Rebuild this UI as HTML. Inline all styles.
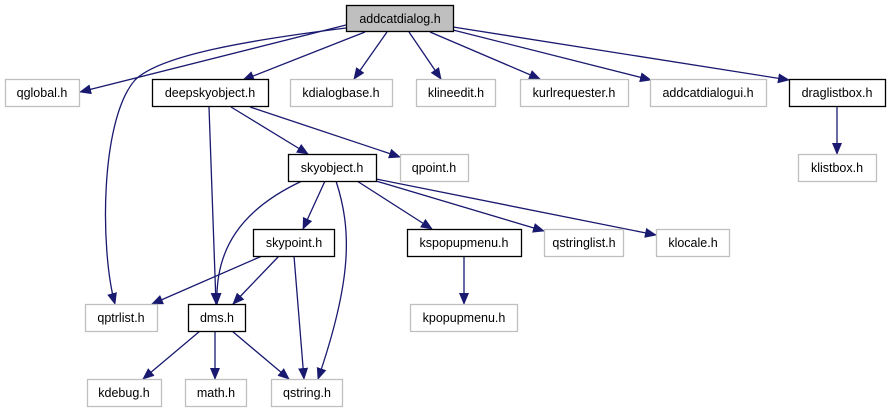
<!DOCTYPE html>
<html><head><meta charset="utf-8"><style>
html,body{margin:0;padding:0;background:#fff;}
svg{display:block;}
text{font-family:"Liberation Sans",sans-serif;font-size:12.5px;fill:#000;}
</style></head><body>
<svg width="891" height="411" viewBox="0 0 891 411" xmlns="http://www.w3.org/2000/svg">
<defs>
<marker id="a" markerWidth="12" markerHeight="10" refX="11" refY="5" orient="auto" markerUnits="userSpaceOnUse">
<path d="M0,0 L12,5 L0,10 z" fill="#191970"/>
</marker>
</defs>
<g fill="none" stroke="#191970" stroke-width="1.3" marker-end="url(#a)">
<path d="M346,25 L80,92"/>
<path d="M346,28 C250,40 160,55 135,80 C100,120 100,250 115,304"/>
<path d="M365,32 L243,80"/>
<path d="M387,32 L354,79"/>
<path d="M409,32 L441,79"/>
<path d="M430,32 L540,79"/>
<path d="M453,30 L651,80"/>
<path d="M453,27 L789,80"/>
<path d="M837,107 L837,154"/>
<path d="M209,107 L216,304"/>
<path d="M231,107 L308,154"/>
<path d="M250,107 L400,157"/>
<path d="M302,181 C240,210 215,250 217,304"/>
<path d="M325,181 L303,229"/>
<path d="M336,181 C352,230 352,280 318,379"/>
<path d="M357,181 L432,229"/>
<path d="M376,181 L544,231"/>
<path d="M376,179 L656,235"/>
<path d="M262,256 L152,304"/>
<path d="M279,256 L233,304"/>
<path d="M294,256 L304,379"/>
<path d="M464,256 L464,304"/>
<path d="M200,331 L143,379"/>
<path d="M215,331 L215,379"/>
<path d="M232,331 L289,379"/>
</g>
<g stroke-width="1.3">
<rect x="346.5" y="5.5" width="107" height="26" fill="#bfbfbf" stroke="#000"/>
<rect x="5.5" y="79.5" width="74" height="27" fill="#fff" stroke="#bfbfbf"/>
<rect x="152.5" y="79.5" width="116" height="27" fill="#fff" stroke="#000"/>
<rect x="290.5" y="79.5" width="102" height="27" fill="#fff" stroke="#bfbfbf"/>
<rect x="416.5" y="79.5" width="79" height="27" fill="#fff" stroke="#bfbfbf"/>
<rect x="520.5" y="79.5" width="108" height="27" fill="#fff" stroke="#bfbfbf"/>
<rect x="650.5" y="79.5" width="116" height="27" fill="#fff" stroke="#bfbfbf"/>
<rect x="789.5" y="79.5" width="96" height="27" fill="#fff" stroke="#000"/>
<rect x="798.5" y="154.5" width="78" height="27" fill="#fff" stroke="#bfbfbf"/>
<rect x="288.5" y="154.5" width="88" height="27" fill="#fff" stroke="#000"/>
<rect x="400.5" y="154.5" width="68" height="27" fill="#fff" stroke="#bfbfbf"/>
<rect x="253.5" y="229.5" width="81" height="27" fill="#fff" stroke="#000"/>
<rect x="407.5" y="229.5" width="114" height="27" fill="#fff" stroke="#000"/>
<rect x="544.5" y="229.5" width="79" height="27" fill="#fff" stroke="#bfbfbf"/>
<rect x="656.5" y="229.5" width="73" height="27" fill="#fff" stroke="#bfbfbf"/>
<rect x="85.5" y="304.5" width="72" height="27" fill="#fff" stroke="#bfbfbf"/>
<rect x="188.5" y="304.5" width="57" height="27" fill="#fff" stroke="#000"/>
<rect x="410.5" y="304.5" width="107" height="27" fill="#fff" stroke="#bfbfbf"/>
<rect x="87.5" y="379.5" width="74" height="27" fill="#fff" stroke="#bfbfbf"/>
<rect x="185.5" y="379.5" width="61" height="27" fill="#fff" stroke="#bfbfbf"/>
<rect x="271.5" y="379.5" width="71" height="27" fill="#fff" stroke="#bfbfbf"/>
</g>
<g text-anchor="middle">
<text x="400" y="23">addcatdialog.h</text>
<text x="42" y="97">qglobal.h</text>
<text x="210" y="97">deepskyobject.h</text>
<text x="341" y="97">kdialogbase.h</text>
<text x="456" y="97">klineedit.h</text>
<text x="574" y="97">kurlrequester.h</text>
<text x="708" y="97">addcatdialogui.h</text>
<text x="837" y="97">draglistbox.h</text>
<text x="837" y="172">klistbox.h</text>
<text x="332" y="172">skyobject.h</text>
<text x="434" y="172">qpoint.h</text>
<text x="294" y="247">skypoint.h</text>
<text x="464" y="247">kspopupmenu.h</text>
<text x="584" y="247">qstringlist.h</text>
<text x="693" y="247">klocale.h</text>
<text x="121" y="322">qptrlist.h</text>
<text x="217" y="322">dms.h</text>
<text x="464" y="322">kpopupmenu.h</text>
<text x="124" y="397">kdebug.h</text>
<text x="216" y="397">math.h</text>
<text x="307" y="397">qstring.h</text>
</g>
</svg>
</body></html>
